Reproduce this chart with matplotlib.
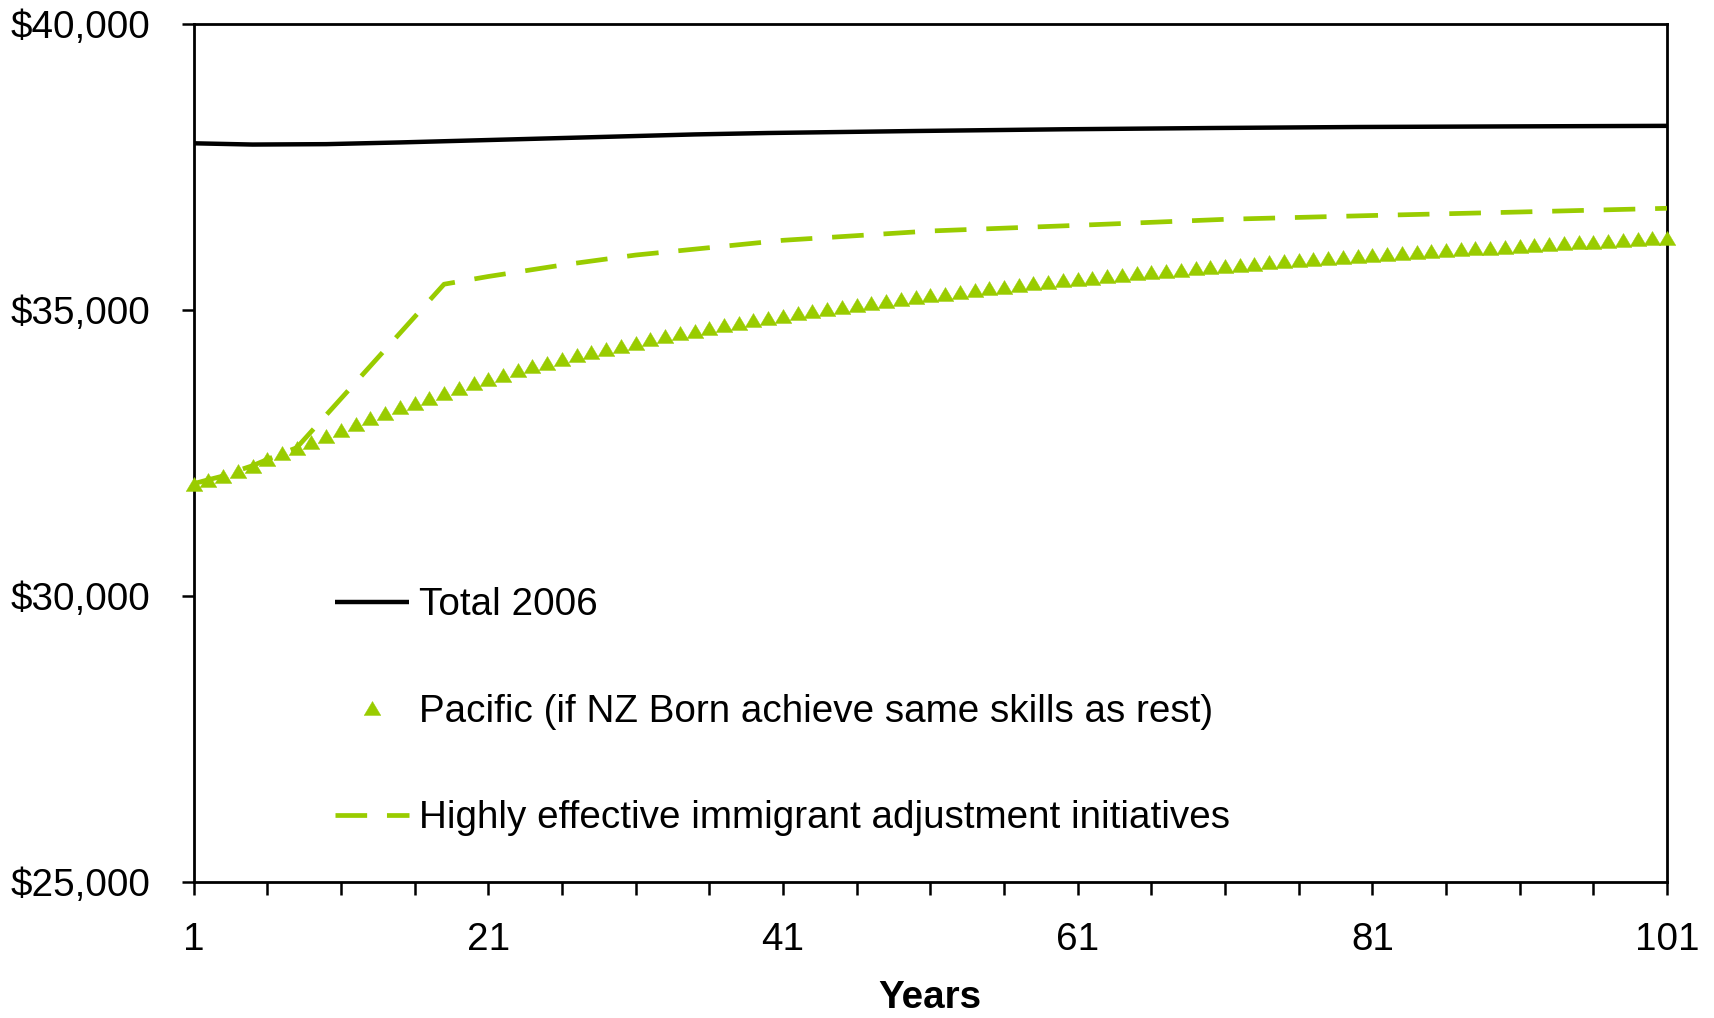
import matplotlib
matplotlib.use("Agg")
import matplotlib.pyplot as plt
from matplotlib.path import Path
from matplotlib.ticker import FixedLocator, FuncFormatter

plt.rcParams['font.family'] = ['Liberation Sans', 'DejaVu Sans']

# ---- data ----
years = list(range(1, 102))

total_years = [1, 5, 10, 15, 20, 25, 30, 35, 40, 50, 60, 70, 80, 90, 101]
total_2006 = [37915, 37893, 37900, 37930, 37965, 38000, 38035, 38070, 38095,
              38130, 38160, 38182, 38200, 38210, 38220]

pacific = [
    31960, 32030, 32095, 32190, 32275, 32385, 32490, 32590, 32695, 32800,
    32900, 33005, 33105, 33195, 33295, 33380, 33465, 33555, 33635, 33715,
    33790, 33870, 33945, 34015, 34080, 34140, 34205, 34270, 34325, 34375,
    34430, 34485, 34540, 34590, 34640, 34685, 34730, 34770, 34820, 34860,
    34900, 34940, 34980, 35015, 35050, 35090, 35125, 35160, 35190, 35225,
    35255, 35285, 35320, 35350, 35380, 35405, 35435, 35465, 35490, 35515,
    35540, 35565, 35590, 35615, 35640, 35660, 35685, 35705, 35730, 35750,
    35770, 35790, 35810, 35830, 35850, 35870, 35890, 35910, 35925, 35945,
    35965, 35980, 35995, 36010, 36030, 36045, 36060, 36075, 36090, 36105,
    36120, 36135, 36150, 36165, 36180, 36195, 36210, 36225, 36240, 36250,
    36262,
]

adjust_years = [1, 2, 3, 4, 5, 6, 7, 8, 18, 21, 26, 31, 41, 51, 61, 71, 81, 91, 101]
adjust_vals = [31960, 32030, 32095, 32190, 32275, 32385, 32490, 32590, 35450,
               35585, 35785, 35960, 36218, 36381, 36480, 36585, 36652, 36713, 36778]

labels = ["Total 2006",
          "Pacific (if NZ Born achieve same skills as rest)",
          "Highly effective immigrant adjustment initiatives"]

x_tick_labels = [1, 21, 41, 61, 81, 101]
y_ticks = [25000, 30000, 35000, 40000]

GREEN = "#99CC00"
FS = 27.8

# ---- figure ----
W, H = 1715, 1018
fig = plt.figure(figsize=(W / 100, H / 100), dpi=100)
left, right, top, bottom = 193.6, 1667.0, 24.1, 881.6
ax = fig.add_axes([left / W, 1 - bottom / H, (right - left) / W, (bottom - top) / H])

# wide, flat triangle marker
tri = Path([(0, 0.84), (-1, -0.84), (1, -0.84), (0, 0.84)],
           [Path.MOVETO, Path.LINETO, Path.LINETO, Path.CLOSEPOLY])

ax.plot(total_years, total_2006, color="black", lw=3.2, label=labels[0],
        solid_capstyle="butt", zorder=3)
ax.plot(years, pacific, linestyle="none", marker=tri, markersize=12,
        markerfacecolor=GREEN, markeredgecolor=GREEN, markeredgewidth=0.3,
        label=labels[1], clip_on=False, zorder=4)
ax.plot(adjust_years, adjust_vals, color=GREEN, lw=3.4, dashes=(6.7, 4.2),
        dash_capstyle="butt", label=labels[2], zorder=3)

ax.set_xlim(1, 101)
ax.set_ylim(25000, 40000)

ax.xaxis.set_major_locator(FixedLocator(x_tick_labels))
ax.xaxis.set_minor_locator(FixedLocator(list(range(1, 102, 5))))
ax.yaxis.set_major_locator(FixedLocator(y_ticks))
ax.yaxis.set_major_formatter(FuncFormatter(lambda v, p: "${:,.0f}".format(v)))

for s in ax.spines.values():
    s.set_linewidth(2.0)
    s.set_color("black")

ax.tick_params(axis="both", which="both", direction="out", length=9, width=1.8,
               colors="black", labelsize=FS)
ax.tick_params(axis="x", which="major", pad=20)
ax.tick_params(axis="y", which="major", pad=22)
ax.tick_params(axis="x", which="minor", labelbottom=False)

ax.set_xlabel("Years", fontsize=FS, fontweight="bold", labelpad=16)

leg = ax.legend(loc="upper left", bbox_to_anchor=(0.096, 0.3435), frameon=False,
                fontsize=FS, handlelength=1.92, handletextpad=0.26,
                labelspacing=1.83, borderpad=0, borderaxespad=0, numpoints=1)

fig.savefig("out.png", dpi=100, facecolor="white")
